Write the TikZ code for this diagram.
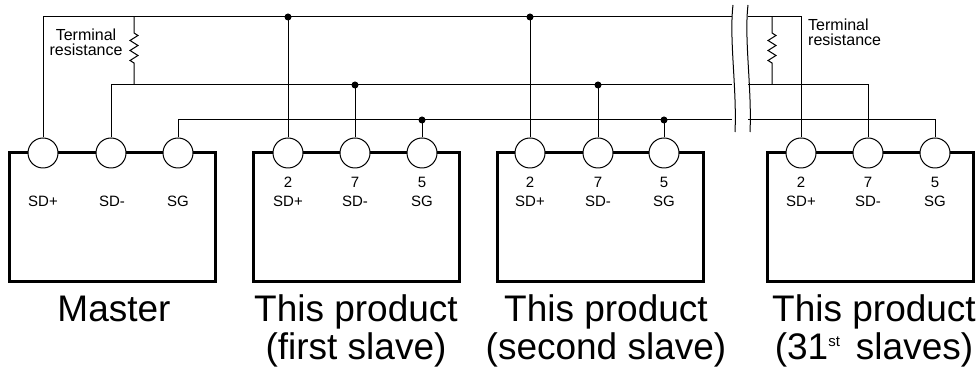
\documentclass[tikz,border=0pt]{standalone}
\usepackage{fontspec}
\setmainfont{Liberation Sans}
\usetikzlibrary{positioning, calc}

\tikzset{
  unitbox/.style={draw, line width=3pt, minimum width=206pt, minimum height=129pt, inner sep=0pt},
  term/.style={circle, draw, fill=white, line width=1pt, minimum size=30pt, inner sep=0pt},
  wire/.style={line width=1pt},
  junction/.style={circle, fill, minimum size=7pt, inner sep=0pt},
  lbl/.style={font=\fontsize{15}{16}\selectfont, anchor=base, inner sep=0pt},
  caption/.style={font=\fontsize{37}{38}\selectfont, align=center, anchor=base, inner sep=0pt},
  note/.style={font=\fontsize{16}{15}\selectfont, anchor=base, inner sep=0pt}
}

\begin{document}
\begin{tikzpicture}[x=1pt, y=1pt]
        \useasboundingbox (0,0) rectangle (979,369);

        % Bus levels and the break
        \coordinate (busP) at (0,352);
        \coordinate (busM) at (0,284);
        \coordinate (busG) at (0,249);
        \coordinate (cutL) at (732,0);
        \coordinate (cutR) at (748,0);

        % Units
        \node[unitbox] (master) at (112,151.5) {};
        \node[unitbox] (slaveA) at (356,151.5) {};
        \node[unitbox] (slaveB) at (600,151.5) {};
        \node[unitbox] (slaveN) at (870,151.5) {};

        % Terminals
        \node[term] (mP) at (43,216) {};
        \node[term] (mM) at (111,216) {};
        \node[term] (mG) at (178,216) {};
        \node[term] (aP) at (288,216) {};
        \node[term] (aM) at (355,216) {};
        \node[term] (aG) at (422,216) {};
        \node[term] (bP) at (530,216) {};
        \node[term] (bM) at (598,216) {};
        \node[term] (bG) at (664,216) {};
        \node[term] (nP) at (801,216) {};
        \node[term] (nM) at (868,216) {};
        \node[term] (nG) at (935,216) {};

        % Bus lines
        \draw[wire] (mP.north) |- (cutL |- busP);
        \draw[wire] (cutR |- busP) -| (nP.north);
        \draw[wire] (mM.north) |- (cutL |- busM);
        \draw[wire] (cutR |- busM) -| (nM.north);
        \draw[wire] (mG.north) |- (cutL |- busG);
        \draw[wire] (cutR |- busG) -| (nG.north);

        % Slave taps
        \draw[wire] (aP.north) -- (aP |- busP) node[junction] (aPj) {};
        \draw[wire] (aM.north) -- (aM |- busM) node[junction] (aMj) {};
        \draw[wire] (aG.north) -- (aG |- busG) node[junction] (aGj) {};
        \draw[wire] (bP.north) -- (bP |- busP) node[junction] (bPj) {};
        \draw[wire] (bM.north) -- (bM |- busM) node[junction] (bMj) {};
        \draw[wire] (bG.north) -- (bG |- busG) node[junction] (bGj) {};

        % Terminal resistances
        \coordinate (resL) at (134,0);
        \coordinate (resR) at (772,0);
        \draw[wire] (resL |- busP) -- ++(0,-16) -- ++(4,-2.5) -- ++(-8,-5) -- ++(8,-5)
            -- ++(-8,-5) -- ++(8,-5) -- ++(-8,-5) -- ++(4,-2.5) -- (resL |- busM);
        \draw[wire] (resR |- busP) -- ++(0,-16) -- ++(4,-2.5) -- ++(-8,-5) -- ++(8,-5)
            -- ++(-8,-5) -- ++(8,-5) -- ++(-8,-5) -- ++(4,-2.5) -- (resR |- busM);

        % Break mark
        \draw[wire] (733,364) .. controls (729,330) and (737,280) .. (735,237);
        \draw[wire] (748,364) .. controls (744,330) and (752,280) .. (750,237);

        % Terminal labels
        \node[lbl] (mPl) at (43,162) {SD+};
        \node[lbl] (mMl) at (112,162) {SD-};
        \node[lbl] (mGl) at (178,162) {SG};
        \node[lbl] (aPn) at (288,181) {2};
        \node[lbl] (aMn) at (355,181) {7};
        \node[lbl] (aGn) at (422,181) {5};
        \node[lbl] (aPl) at (288,162) {SD+};
        \node[lbl] (aMl) at (355,162) {SD-};
        \node[lbl] (aGl) at (422,162) {SG};
        \node[lbl] (bPn) at (530,181) {2};
        \node[lbl] (bMn) at (598,181) {7};
        \node[lbl] (bGn) at (664,181) {5};
        \node[lbl] (bPl) at (530,162) {SD+};
        \node[lbl] (bMl) at (598,162) {SD-};
        \node[lbl] (bGl) at (664,162) {SG};
        \node[lbl] (nPn) at (801,181) {2};
        \node[lbl] (nMn) at (868,181) {7};
        \node[lbl] (nGn) at (935,181) {5};
        \node[lbl] (nPl) at (801,162) {SD+};
        \node[lbl] (nMl) at (868,162) {SD-};
        \node[lbl] (nGl) at (935,162) {SG};

        % Notes
        \node[note, align=center] (noteL) at (86,313) {Terminal\\resistance};
        \node[note, align=left, anchor=base west] (noteR) at (808,323) {Terminal\\resistance};

        % Captions
        \node[caption] (masterCap) at (114,47) {Master};
        \node[caption] (slaveACap) at (356,9) {This product\\(first slave)};
        \node[caption] (slaveBCap) at (606,9) {This product\\(second slave)};
        \node[caption] (slaveNCap) at (874,9) {This product\\(31\raisebox{14pt}{\fontsize{15}{15}\selectfont st}\hspace{16pt}slaves)};
    \end{tikzpicture}
\end{document}
